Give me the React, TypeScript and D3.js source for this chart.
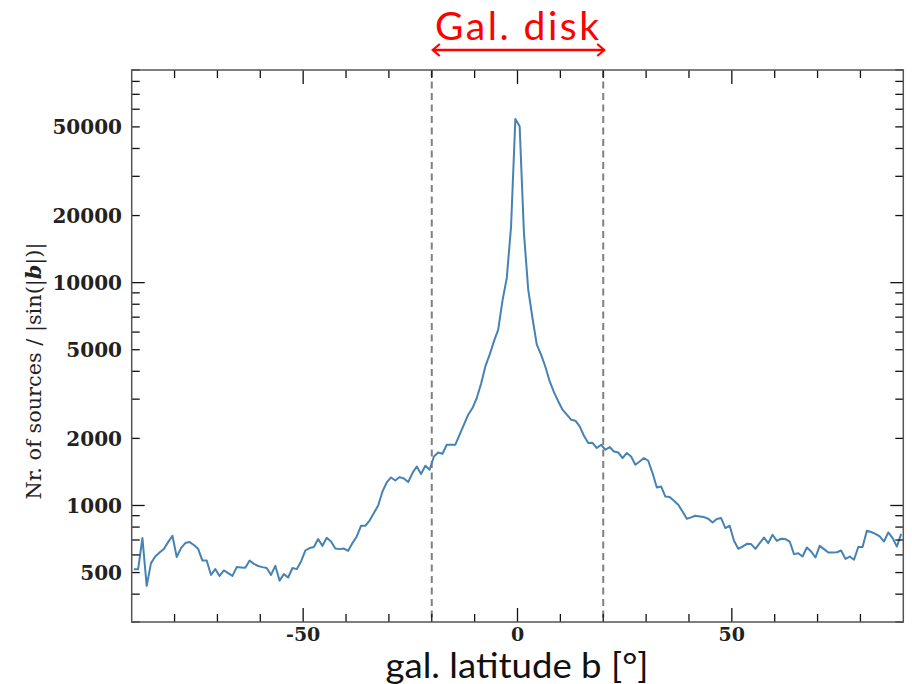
import * as d3 from "d3";

// number of sources / |sin(|b|)| per 1 degree latitude bin, from b = -89.5 to 89.5
const counts = [
  518, 518, 714, 436, 551, 590, 615, 638, 685, 731,
  587, 644, 678, 685, 665, 639, 566, 566, 488, 518,
  483, 511, 497, 483, 529, 527, 525, 566, 547, 535,
  529, 524, 488, 536, 460, 492, 475, 524, 518, 560,
  628, 644, 651, 707, 659, 716, 689, 641, 637, 641,
  626, 678, 726, 811, 811, 856, 925, 1000, 1156, 1269,
  1336, 1295, 1341, 1322, 1274, 1398, 1497, 1384, 1508, 1446,
  1660, 1730, 1707, 1874, 1874, 1874, 2078, 2304, 2555, 2737,
  3036, 3520, 4209, 4750, 5450, 6150, 8300, 10500, 17900, 54300,
  50300, 16720, 9300, 6920, 5267, 4750, 4195, 3611, 3224, 2937,
  2690, 2555, 2426, 2401, 2263, 2056, 1906, 1910, 1810, 1874,
  1779, 1829, 1748, 1730, 1633, 1719, 1660, 1524, 1576, 1633,
  1588, 1398, 1204, 1217, 1097, 1091, 1050, 1007, 940, 872,
  884, 899, 893, 887, 872, 839, 869, 878, 792, 811,
  694, 639, 654, 673, 671, 639, 678, 718, 678, 739,
  694, 709, 707, 689, 605, 611, 590, 648, 622, 584,
  659, 637, 615, 615, 617, 628, 576, 590, 571, 651,
  651, 770, 760, 746, 726, 689, 757, 714, 654, 746,
];
const binStart = -89.5;
const latitudes = counts.map((_, i) => binStart + i);

const xDomain = [-90, 90];
const yDomain = [300, 90000];
const xMajor = [-50, 0, 50];
const xMinor = [-80, -70, -60, -40, -30, -20, -10, 10, 20, 30, 40, 60, 70, 80];
const yLabelled = [500, 1000, 2000, 5000, 10000, 20000, 50000];
const yDecades = [1000, 10000];
const diskEdges = [-20, 20];

const W = 912;
const H = 684;
const left = 131.7, right = 903.3, top = 70, bottom = 622;

export default function App() {
  const x = d3.scaleLinear().domain(xDomain).range([left, right]);
  const y = d3.scaleLog().domain(yDomain).range([bottom, top]);

  const yMinor: number[] = [];
  [100, 1000, 10000].forEach((d) => {
    for (let k = 1; k <= 9; k++) {
      const v = d * k;
      if (v >= yDomain[0] && v <= yDomain[1] && !yDecades.includes(v)) yMinor.push(v);
    }
  });

  const line = d3
    .line<number>()
    .x((_, i) => x(latitudes[i]))
    .y((d) => y(d));

  const serif = "'DejaVu Serif', serif";

  return (
    <svg width={W} height={H} style={{ position: "absolute", left: 0, top: 0, background: "#fff" }}>
      {/* dashed disk limits */}
      {diskEdges.map((b) => (
        <line key={b} x1={x(b)} x2={x(b)} y1={top} y2={bottom} stroke="#808080" strokeWidth={2} strokeDasharray="7,4.5" />
      ))}

      <path d={line(counts) || ""} fill="none" stroke="#4682b4" strokeWidth={2} strokeLinejoin="round" />

      {/* x ticks top & bottom */}
      {xMinor.map((t) => (
        <g key={"xm" + t}>
          <line x1={x(t)} x2={x(t)} y1={bottom} y2={bottom - 8} stroke="#111" strokeWidth={1.3} />
          <line x1={x(t)} x2={x(t)} y1={top} y2={top + 8} stroke="#111" strokeWidth={1.3} />
        </g>
      ))}
      {xMajor.map((t) => (
        <g key={"xM" + t}>
          <line x1={x(t)} x2={x(t)} y1={bottom} y2={bottom - 14} stroke="#111" strokeWidth={1.3} />
          <line x1={x(t)} x2={x(t)} y1={top} y2={top + 14} stroke="#111" strokeWidth={1.3} />
          <text x={x(t)} y={641} textAnchor="middle" fontFamily={serif} fontWeight="bold" fontSize={19} fill="#222">
            {t}
          </text>
        </g>
      ))}

      {/* y ticks left & right */}
      {yMinor.map((t) => (
        <g key={"ym" + t}>
          <line x1={left} x2={left + 8} y1={y(t)} y2={y(t)} stroke="#111" strokeWidth={1.3} />
          <line x1={right} x2={right - 8} y1={y(t)} y2={y(t)} stroke="#111" strokeWidth={1.3} />
        </g>
      ))}
      {yDecades.map((t) => (
        <g key={"yM" + t}>
          <line x1={left} x2={left + 13} y1={y(t)} y2={y(t)} stroke="#111" strokeWidth={1.3} />
          <line x1={right} x2={right - 13} y1={y(t)} y2={y(t)} stroke="#111" strokeWidth={1.3} />
        </g>
      ))}
      {yLabelled.map((t) => (
        <text key={"yl" + t} x={122} y={y(t)} dy="0.36em" textAnchor="end" fontFamily={serif} fontWeight="bold" fontSize={20} fill="#222">
          {t}
        </text>
      ))}

      {/* frame */}
      <rect x={left} y={top} width={right - left} height={bottom - top} fill="none" stroke="#555" strokeWidth={1.5} />

      {/* axis titles */}
      <text x={517} y={678} textAnchor="middle" fontFamily="Lato, sans-serif" fontSize={34} fill="#111" textLength={263} lengthAdjust="spacingAndGlyphs">
        gal. latitude b [°]
      </text>
      <text
        transform={`translate(41, 371) rotate(-90)`}
        textAnchor="middle"
        fontFamily={serif}
        fontSize={21}
        fill="#222"
        textLength={257}
        lengthAdjust="spacingAndGlyphs"
      >
        Nr. of sources / |sin(|<tspan fontStyle="italic" fontWeight="bold">b</tspan>|)|
      </text>

      {/* Galactic disk annotation */}
      <text x={517} y={40} textAnchor="middle" fontFamily="Lato, sans-serif" fontSize={39} fill="#f00" textLength={164} lengthAdjust="spacing">
        Gal. disk
      </text>
      <line x1={x(diskEdges[0]) + 1} x2={x(diskEdges[1]) + 1} y1={50} y2={50} stroke="#f00" strokeWidth={2.5} />
      <path
        d={`M${x(diskEdges[0]) + 8},44 L${x(diskEdges[0]) + 1},50 L${x(diskEdges[0]) + 8},56`}
        fill="none"
        stroke="#f00"
        strokeWidth={2.2}
      />
      <path
        d={`M${x(diskEdges[1]) - 6},44 L${x(diskEdges[1]) + 1},50 L${x(diskEdges[1]) - 6},56`}
        fill="none"
        stroke="#f00"
        strokeWidth={2.2}
      />
    </svg>
  );
}
